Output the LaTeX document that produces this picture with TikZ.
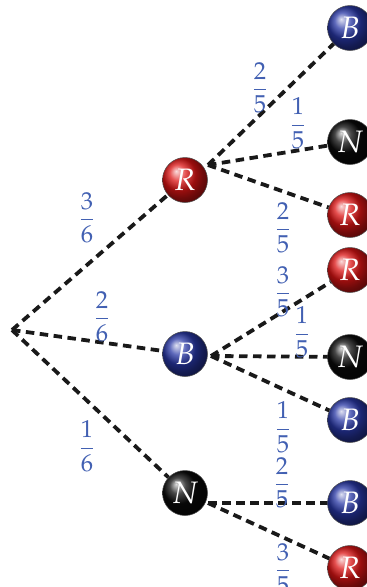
\documentclass[tikz,border=0pt]{standalone}
\usepackage{mathpazo}
\definecolor{labblue}{RGB}{66,96,178}
\definecolor{ballred}{RGB}{220,20,20}
\definecolor{ballblue}{RGB}{40,55,165}
\definecolor{ballblack}{RGB}{10,10,10}
\tikzset{
  ballnode/.style={circle, minimum size=45pt, inner sep=0pt, ball color=#1,
    draw=black!70, line width=0.5pt, text=white,
    font=\fontsize{31}{31}\selectfont},
  branch/.style={line width=3.8pt, dash pattern=on 8.5pt off 5.5pt, black!90},
  lab/.style={text=labblue, inner sep=0pt, font=\fontsize{24.5}{28}\selectfont}
}
\begin{document}
\begin{tikzpicture}[x=1pt,y=-1pt]
\useasboundingbox (0,0) rectangle (367,587);
% root
\coordinate (root) at (12,330);
% level 1
\node[ballnode=ballred] (R1) at (185,180) {$R$};
\node[ballnode=ballblue] (B1) at (185,354) {$B$};
\node[ballnode=ballblack] (N1) at (185,493) {$N$};
% start points of level-2 branches
\coordinate (R1s) at (208,165);
\coordinate (B1s) at (211,356);
\coordinate (N1s) at (208,503);
% level 2
\node[ballnode=ballblue] (B2a) at (350,28) {$B$};
\node[ballnode=ballblack] (N2a) at (350,142) {$N$};
\node[ballnode=ballred] (R2a) at (350,215) {$R$};
\node[ballnode=ballred] (R2b) at (350,270) {$R$};
\node[ballnode=ballblack] (N2b) at (350,357) {$N$};
\node[ballnode=ballblue] (B2b) at (350,420) {$B$};
\node[ballnode=ballblue] (B2c) at (350,503) {$B$};
\node[ballnode=ballred] (R2c) at (350,568) {$R$};
% branches
\draw[branch] (root) -- (R1);
\draw[branch] (root) -- (B1);
\draw[branch] (root) -- (N1);
\draw[branch] (R1s) -- (B2a);
\draw[branch] (R1s) -- (N2a);
\draw[branch] (R1s) -- (R2a);
\draw[branch] (B1s) -- (R2b);
\draw[branch] (B1s) -- (N2b);
\draw[branch] (B1s) -- (B2b);
\draw[branch] (N1s) -- (B2c);
\draw[branch] (N1s) -- (R2c);
% labels
\node[lab] (l1) at (87,218) {$\displaystyle\frac{3}{6}$};
\node[lab] (l2) at (102,317) {$\displaystyle\frac{2}{6}$};
\node[lab] (l3) at (87,446) {$\displaystyle\frac{1}{6}$};
\node[lab] (l4) at (260,88) {$\displaystyle\frac{2}{5}$};
\node[lab] (l5) at (298,123) {$\displaystyle\frac{1}{5}$};
\node[lab] (l6) at (283,228) {$\displaystyle\frac{2}{5}$};
\node[lab] (l7) at (283,292) {$\displaystyle\frac{3}{5}$};
\node[lab] (l8) at (302,332) {$\displaystyle\frac{1}{5}$};
\node[lab] (l9) at (283,427) {$\displaystyle\frac{1}{5}$};
\node[lab] (l10) at (282,483) {$\displaystyle\frac{2}{5}$};
\node[lab] (l11) at (283,569) {$\displaystyle\frac{3}{5}$};
\end{tikzpicture}
\end{document}
